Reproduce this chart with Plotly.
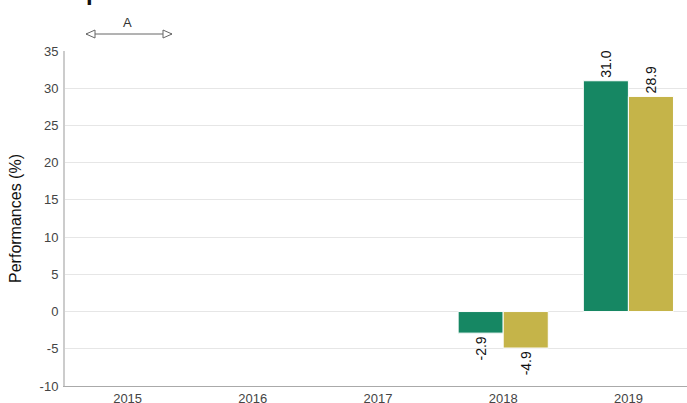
import plotly.graph_objects as go

years = ["2015", "2016", "2017", "2018", "2019"]
series_a = [None, None, None, -2.9, 31.0]
series_b = [None, None, None, -4.9, 28.9]
labels_a = ["", "", "", "-2.9", "31.0"]
labels_b = ["", "", "", "-4.9", "28.9"]
y_ticks = [-10, -5, 0, 5, 10, 15, 20, 25, 30, 35]
y_tick_text = ["-10", "-5", "0", "5", "10", "15", "20", "25", "30", "35"]

GREEN = "#168763"
GOLD = "#c5b449"

fig = go.Figure()
fig.add_trace(go.Bar(x=years, y=series_a, text=labels_a, name="A",
                     marker=dict(color=GREEN, line=dict(color="white", width=1)),
                     textposition="outside", textangle=-90, cliponaxis=False,
                     textfont=dict(size=14, color="#111")))
fig.add_trace(go.Bar(x=years, y=series_b, text=labels_b, name="B",
                     marker=dict(color=GOLD, line=dict(color="white", width=1)),
                     textposition="outside", textangle=-90, cliponaxis=False,
                     textfont=dict(size=14, color="#111")))

W = 691
fig.update_layout(
    width=W, height=403,
    margin=dict(l=65, r=0, t=51, b=17),
    plot_bgcolor="white", paper_bgcolor="white",
    barmode="group", bargap=0.28, bargroupgap=0.0,
    showlegend=False,
    font=dict(family="Liberation Sans, Arial, sans-serif", color="#444", size=13),
    uniformtext=dict(minsize=14, mode="show"),
)
fig.update_xaxes(type="category", showline=True, linecolor="#aaa", linewidth=1,
                 showgrid=False, ticks="", automargin=False,
                 tickfont=dict(size=13, color="#444"))
fig.update_yaxes(range=[-10, 35], tickvals=y_ticks, ticktext=y_tick_text, showline=True,
                 linecolor="#ccc", automargin=False, ticklabelstandoff=2,
                 linewidth=2, gridcolor="#e6e6e6", zeroline=False, ticks="",
                 tickfont=dict(size=13, color="#444"),
                 title=dict(text="Performances (%)", font=dict(size=16, color="#111"), standoff=14))

pw = W - 65
def px(x):
    return (x - 65) / pw

# legend-like arrow marker "A" at top
yline = 1.0507
x0, x1 = px(86), px(172)
hw = 9 / pw
fig.add_shape(type="line", xref="paper", yref="paper", x0=x0, x1=x1, y0=yline, y1=yline,
              line=dict(color="#666", width=1))
fig.add_shape(type="path", xref="paper", yref="paper",
              path=f"M {x0},{yline} L {x0+hw},{yline+0.0119} L {x0+hw},{yline-0.0119} Z",
              fillcolor="white", line=dict(color="#666", width=1))
fig.add_shape(type="path", xref="paper", yref="paper",
              path=f"M {x1},{yline} L {x1-hw},{yline+0.0119} L {x1-hw},{yline-0.0119} Z",
              fillcolor="white", line=dict(color="#666", width=1))
fig.add_annotation(text="A", xref="paper", yref="paper", x=px(127), y=1.0836, showarrow=False,
                   font=dict(size=13, color="#333"), xanchor="center", yanchor="middle")
fig.add_annotation(text="<b>p</b>", xref="paper", yref="paper", x=px(84), y=1.13, showarrow=False,
                   font=dict(size=24, color="#111"), xanchor="left", yanchor="bottom")

fig.write_html("out.html", config={"displayModeBar": False},
               post_script="document.body.style.margin='0';document.body.style.overflow='hidden';")
